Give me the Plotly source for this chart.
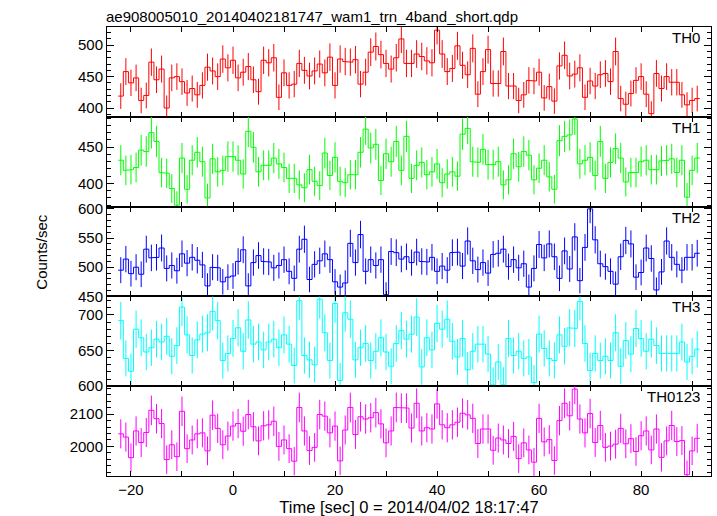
import numpy as np
import plotly.graph_objects as go
from plotly.subplots import make_subplots

# time bins (1 s), centres in seconds from 2014/04/02 18:17:47
time_sec = list(range(-22, 92))
bin_width = 1.0

th0 = [419,458,440,448,412,420,473,445,462,400,448,450,442,424,431,421,436,465,459,450,478,464,476,448,457,466,445,426,476,472,480,417,456,436,438,471,460,451,459,470,456,481,436,478,474,473,477,438,457,489,498,485,471,462,480,510,471,
       471,486,482,475,472,524,486,458,463,499,468,453,495,422,458,493,439,439,490,435,435,412,421,444,443,457,416,434,411,467,484,451,454,464,417,443,435,453,455,442,490,415,406,423,444,450,422,391,455,431,450,441,441,421,405,412,415]
th1 = [432,418,419,422,446,444,470,458,415,414,393,370,435,392,432,443,430,380,434,416,418,437,437,432,413,472,450,416,425,425,435,427,422,407,407,398,394,419,403,397,442,411,436,403,401,412,412,443,475,449,454,404,441,430,458,418,465,
       407,425,429,412,416,427,401,413,416,410,468,476,430,429,447,426,426,430,398,405,441,423,444,439,405,421,432,409,392,459,465,467,489,427,432,436,411,458,407,429,448,435,402,415,415,430,432,419,419,431,432,434,415,432,381,418,435]
th2 = [495,514,489,500,488,531,516,517,533,498,503,494,523,507,517,512,504,468,500,499,475,483,485,510,530,468,508,520,510,509,499,503,513,493,481,531,548,479,505,511,523,513,475,466,473,541,508,556,493,513,503,513,453,527,525,514,518,
       508,526,510,509,517,493,502,495,525,526,502,545,511,496,508,490,522,524,531,501,513,499,506,466,498,539,516,540,518,481,528,497,552,477,534,600,547,506,501,493,471,518,546,540,483,491,533,515,461,492,545,517,505,495,517,517,524]
th3 = [692,639,621,680,668,648,654,666,662,670,642,657,711,672,643,665,673,675,705,692,636,646,667,682,649,693,659,662,651,662,666,654,672,659,629,720,643,637,630,722,675,636,716,608,703,694,637,654,660,636,649,668,648,628,660,678,666,
       673,697,627,668,651,688,680,694,663,641,667,623,649,659,659,645,602,634,602,667,643,649,639,641,605,673,653,639,636,672,656,682,681,719,660,622,646,636,642,636,675,628,664,645,681,667,649,666,657,646,646,646,646,662,634,642,652]
th0123 = [2039,2029,1965,2048,2012,2043,2112,2086,2071,1959,2005,1968,2109,1993,2020,2039,2042,1986,2097,2056,2005,2032,2063,2071,2047,2099,2061,2017,2064,2067,2078,2000,2020,1993,1954,2121,2048,1987,1997,2099,2094,2042,2063,1955,2051,2121,2037,2092,2085,2089,2105,2070,2011,2048,2121,2119,2119,
          2057,2134,2048,2058,2054,2132,2067,2058,2067,2075,2103,2098,2087,2009,2054,2054,1988,2026,2020,2009,2031,1962,2011,1989,1951,2087,2014,2021,1956,2080,2134,2095,2178,2085,2042,2102,2012,2065,1997,2001,2007,2056,2008,2024,1984,2033,2048,1989,2054,1966,2017,2065,2015,2018,1912,1986,2025]

band_names = ["TH0", "TH1", "TH2", "TH3", "TH0123"]
band_values = [th0, th1, th2, th3, th0123]
band_colors = ["#ff0000", "#00ff00", "#0000ff", "#00ffff", "#ff00ff"]
y_ranges = [[386, 529], [368, 492], [450, 604], [600, 726], [1908, 2187]]
y_dticks = [50, 50, 50, 50, 100]
y_minor = [10, 10, 10, 10, 20]
x_range = [-24.7, 93.7]

title_text = "ae908005010_20140402181747_wam1_trn_4band_short.qdp"
x_title = "Time [sec] 0 = 2014/04/02 18:17:47"
y_title = "Counts/sec"

FONT = "Liberation Sans, Arial, Helvetica, sans-serif"

fig = make_subplots(rows=5, cols=1, shared_xaxes=True, vertical_spacing=0)

t = np.array(time_sec, dtype=float)
for i, (name, vals, col) in enumerate(zip(band_names, band_values, band_colors)):
    v = np.array(vals, dtype=float)
    err = np.sqrt(v * bin_width) / bin_width  # Poisson errors of the count rate
    xs = np.column_stack([t - bin_width / 2, t + bin_width / 2]).ravel()
    ys = np.repeat(v, 2)
    fig.add_trace(go.Scatter(x=xs, y=ys, mode="lines", line=dict(color=col, width=1),
                             hoverinfo="skip", showlegend=False), row=i + 1, col=1)
    fig.add_trace(go.Scatter(x=t, y=v, mode="markers", marker=dict(size=0.1, color=col),
                             error_y=dict(type="data", array=err, width=0, thickness=1, color=col),
                             showlegend=False, name=name), row=i + 1, col=1)

H = 1.0 / 5
for i in range(5):
    d0 = 1 - (i + 1) * H
    d1 = 1 - i * H
    ax = "yaxis" if i == 0 else f"yaxis{i+1}"
    xa = "xaxis" if i == 0 else f"xaxis{i+1}"
    fig.layout[ax].update(
        domain=[d0, d1], range=y_ranges[i], dtick=y_dticks[i], tick0=0,
        ticks="inside", ticklen=7, tickcolor="black", showline=True, linecolor="black",
        linewidth=1, mirror="ticks", showgrid=False, zeroline=False, automargin=False,
        tickfont=dict(family=FONT, size=15, color="black"),
        minor=dict(dtick=y_minor[i], ticklen=4, ticks="inside", tickcolor="black", showgrid=False),
    )
    fig.layout[xa].update(
        range=x_range, dtick=20, tick0=0, ticks="inside", ticklen=5, tickcolor="black",
        showline=True, linecolor="black", linewidth=1, mirror="ticks", showgrid=False,
        zeroline=False, showticklabels=(i == 4), automargin=False,
        tickfont=dict(family=FONT, size=15, color="black"),
        minor=dict(dtick=10, ticklen=5, ticks="inside", tickcolor="black", showgrid=False),
    )
    xr = "x domain" if i == 0 else f"x{i+1} domain"
    yr = "y domain" if i == 0 else f"y{i+1} domain"
    fig.add_annotation(text=band_names[i], xref=xr, yref=yr, x=0.985, y=1.0,
                       xanchor="right", yanchor="top", showarrow=False,
                       font=dict(family=FONT, size=15, color="black"))

fig.layout["xaxis5"].update(title=dict(text=x_title, font=dict(family=FONT, size=16.5, color="black"),
                                       standoff=0))

fig.add_annotation(text=y_title, xref="paper", yref="paper", x=-0.109, y=0.5,
                   xanchor="center", yanchor="middle", textangle=-90, showarrow=False,
                   font=dict(family=FONT, size=15, color="black"))
fig.add_annotation(text=title_text, xref="paper", yref="paper", x=0, y=1,
                   xanchor="left", yanchor="bottom", showarrow=False, yshift=0, xshift=-3,
                   font=dict(family=FONT, size=15, color="black"))

fig.update_layout(width=717, height=516, margin=dict(l=107, r=6, t=27, b=40),
                  plot_bgcolor="white", paper_bgcolor="white", showlegend=False)

fig.write_html("out.html", config={"displayModeBar": False},
               post_script="document.body.style.margin='0';document.body.style.overflow='hidden';")
